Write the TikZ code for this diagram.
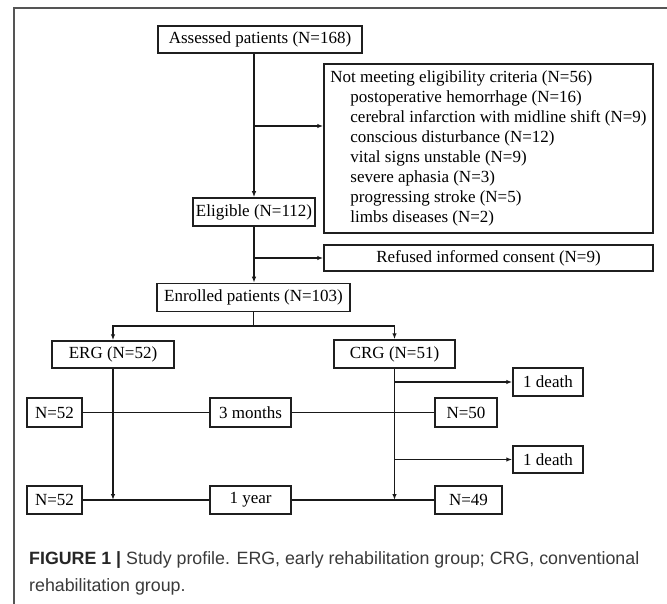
\documentclass[tikz,border=0pt]{standalone}
\usepackage{fontspec}
\setmainfont{Liberation Serif}
\newfontfamily\capfont{Liberation Sans}
\usetikzlibrary{arrows.meta}
\definecolor{framegray}{HTML}{555555}
\definecolor{captext}{HTML}{3A3A3A}
\tikzset{
  box/.style={draw=black!88, line width=1.5pt, inner sep=0pt, align=center,
    font=\fontsize{17}{20}\selectfont},
  conn/.style={line width=1.3pt, draw=black!90},
  arr/.style={conn, -{Latex[length=6pt,width=4.5pt]}},
  captxt/.style={inner sep=0pt, anchor=base west, text=captext,
    font=\capfont\fontsize{17.8}{22}\selectfont}
}
\begin{document}
\begin{tikzpicture}[x=1pt,y=-1pt]
\useasboundingbox (0,0) rectangle (667,604);
\fill[white] (0,0) rectangle (667,604);
\draw[framegray, line width=1.6pt] (14,640) -- (14,8) -- (700,8);

\node[box, minimum width=204pt, minimum height=27pt] (assessed) at (260,39.5) {Assessed patients (N=168)};
\node[box, minimum width=329pt, minimum height=169pt] (notmeet) at (488.5,148.5)
  {\begin{tabular}{@{}l@{}}Not meeting eligibility criteria (N=56)\\
   \hspace*{20pt}postoperative hemorrhage (N=16)\\
   \hspace*{20pt}cerebral infarction with midline shift (N=9)\\
   \hspace*{20pt}conscious disturbance (N=12)\\
   \hspace*{20pt}vital signs unstable (N=9)\\
   \hspace*{20pt}severe aphasia (N=3)\\
   \hspace*{20pt}progressing stroke (N=5)\\
   \hspace*{20pt}limbs diseases (N=2)\end{tabular}};
\node[box, minimum width=122pt, minimum height=28pt] (eligible) at (254,212) {Eligible (N=112)};
\node[box, minimum width=329pt, minimum height=26pt] (refused) at (488.5,258) {Refused informed consent (N=9)};
\node[box, minimum width=193pt, minimum height=28pt] (enrolled) at (253.5,297.5) {Enrolled patients (N=103)};
\node[box, minimum width=122pt, minimum height=27pt] (erg) at (113,354.5) {ERG (N=52)};
\node[box, minimum width=121pt, minimum height=28pt] (crg) at (394.5,354) {CRG (N=51)};
\node[box, minimum width=70pt, minimum height=28pt] (death1) at (548,382) {1 death};
\node[box, minimum width=70pt, minimum height=27pt] (death2) at (548,459.5) {1 death};
\node[box, minimum width=55pt, minimum height=29pt] (n52a) at (54.5,412.5) {N=52};
\node[box, minimum width=81pt, minimum height=29pt] (m3) at (250.5,412.5) {3 months};
\node[box, minimum width=62pt, minimum height=29pt] (n50) at (466,412.5) {N=50};
\node[box, minimum width=55pt, minimum height=28pt] (n52b) at (54.5,500) {N=52};
\node[box, minimum width=81pt, minimum height=28pt] (y1) at (250.5,500) {1 year};
\node[box, minimum width=67pt, minimum height=28pt] (n49) at (468.5,500) {N=49};

\coordinate (b1) at (254,126);
\coordinate (b2) at (254,258);
\coordinate (split) at (253.5,326);

\draw[arr] (eligible.north |- assessed.south) -- (eligible.north);
\draw[arr] (b1) -- (b1 -| notmeet.west);
\draw[arr] (eligible.south) -- (eligible.south |- enrolled.north);
\draw[arr] (b2) -- (refused.west);
\draw[conn] (enrolled.south) -- (split);
\draw[arr] (split) -| (erg.north);
\draw[arr] (split) -| (crg.north);
\draw[arr] (erg.south) -- (erg.south |- y1.west);
\draw[arr] (crg.south) -- (crg.south |- y1.east);
\draw[arr] (crg.south |- death1.west) -- (death1.west);
\draw[arr] (crg.south |- death2.west) -- (death2.west);
\draw[conn] (n52a.east) -- (m3.west);
\draw[conn] (m3.east) -- (n50.west);
\draw[conn] (n52b.east) -- (y1.west);
\draw[conn] (y1.east) -- (n49.west);

\node[captxt] (cap1) at (29,564) {{\bfseries\color{black!85}FIGURE 1 |} Study profile. ERG, early rehabilitation group; CRG, conventional};
\node[captxt] (cap2) at (29,591) {rehabilitation group.};
\end{tikzpicture}
\end{document}
